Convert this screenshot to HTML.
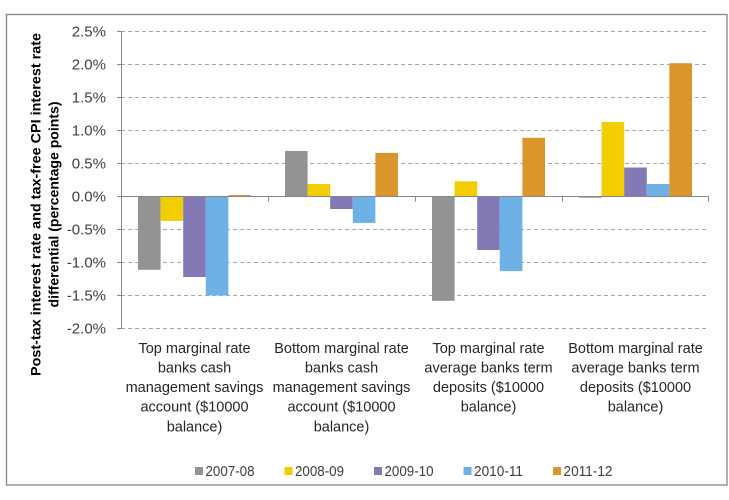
<!DOCTYPE html>
<html>
<head>
<meta charset="utf-8">
<style>
  html, body { margin: 0; padding: 0; background: #ffffff; }
  body { width: 729px; height: 500px; overflow: hidden; }
  svg { display: block; }
  text { font-family: "Liberation Sans", Arial, sans-serif; }
</style>
</head>
<body>
<svg width="729" height="500" viewBox="0 0 729 500" xmlns="http://www.w3.org/2000/svg">
  <rect x="0" y="0" width="729" height="500" fill="#ffffff"/>
  <!-- chart border -->
  <rect x="6.5" y="14.5" width="720.5" height="470.5" fill="#ffffff" stroke="#868686" stroke-width="1.3"/>

  <!-- gridlines -->
  <g stroke="#a6a6a6" stroke-width="1" stroke-dasharray="4,3" fill="none">
    <line x1="121" y1="31.5" x2="709" y2="31.5"/>
    <line x1="121" y1="64.5" x2="709" y2="64.5"/>
    <line x1="121" y1="97.5" x2="709" y2="97.5"/>
    <line x1="121" y1="130.5" x2="709" y2="130.5"/>
    <line x1="121" y1="163.5" x2="709" y2="163.5"/>
    <line x1="121" y1="229.5" x2="709" y2="229.5"/>
    <line x1="121" y1="262.5" x2="709" y2="262.5"/>
    <line x1="121" y1="295.5" x2="709" y2="295.5"/>
    <line x1="121" y1="328.5" x2="709" y2="328.5"/>
  </g>

  <!-- bars -->
  <g>
    <!-- category 1 -->
    <rect x="138" y="196.5" width="22.6" height="73.3" fill="#939393"/>
    <rect x="160.6" y="196.5" width="22.6" height="24.4" fill="#F2CE00"/>
    <rect x="183.2" y="196.5" width="22.6" height="80.5" fill="#8279B5"/>
    <rect x="205.8" y="196.5" width="22.6" height="99" fill="#6DB1E6"/>
    <rect x="228.4" y="195" width="22.6" height="1.5" fill="#DB962B"/>
    <!-- category 2 -->
    <rect x="285" y="151" width="22.6" height="45.5" fill="#939393"/>
    <rect x="307.6" y="184" width="22.6" height="12.5" fill="#F2CE00"/>
    <rect x="330.2" y="196.5" width="22.6" height="12.5" fill="#8279B5"/>
    <rect x="352.8" y="196.5" width="22.6" height="26.4" fill="#6DB1E6"/>
    <rect x="375.4" y="152.9" width="22.6" height="43.6" fill="#DB962B"/>
    <!-- category 3 -->
    <rect x="432" y="196.5" width="22.6" height="104.3" fill="#939393"/>
    <rect x="454.6" y="181.3" width="22.6" height="15.2" fill="#F2CE00"/>
    <rect x="477.2" y="196.5" width="22.6" height="53.5" fill="#8279B5"/>
    <rect x="499.8" y="196.5" width="22.6" height="74.6" fill="#6DB1E6"/>
    <rect x="522.4" y="137.8" width="22.6" height="58.7" fill="#DB962B"/>
    <!-- category 4 -->
    <rect x="579" y="196.5" width="22.6" height="1.2" fill="#939393"/>
    <rect x="601.6" y="121.9" width="22.6" height="74.6" fill="#F2CE00"/>
    <rect x="624.2" y="167.5" width="22.6" height="29" fill="#8279B5"/>
    <rect x="646.8" y="184" width="22.6" height="12.5" fill="#6DB1E6"/>
    <rect x="669.4" y="63.2" width="22.6" height="133.3" fill="#DB962B"/>
  </g>

  <!-- axes -->
  <g stroke="#868686" stroke-width="1" fill="none">
    <line x1="121.5" y1="31" x2="121.5" y2="329"/>
    <line x1="117" y1="31.5" x2="121.5" y2="31.5"/>
    <line x1="117" y1="64.5" x2="121.5" y2="64.5"/>
    <line x1="117" y1="97.5" x2="121.5" y2="97.5"/>
    <line x1="117" y1="130.5" x2="121.5" y2="130.5"/>
    <line x1="117" y1="163.5" x2="121.5" y2="163.5"/>
    <line x1="117" y1="196.5" x2="121.5" y2="196.5"/>
    <line x1="117" y1="229.5" x2="121.5" y2="229.5"/>
    <line x1="117" y1="262.5" x2="121.5" y2="262.5"/>
    <line x1="117" y1="295.5" x2="121.5" y2="295.5"/>
    <line x1="117" y1="328.5" x2="121.5" y2="328.5"/>
    <line x1="121" y1="196.5" x2="709" y2="196.5"/>
    <line x1="268.5" y1="196.5" x2="268.5" y2="201.5"/>
    <line x1="415.5" y1="196.5" x2="415.5" y2="201.5"/>
    <line x1="562.5" y1="196.5" x2="562.5" y2="201.5"/>
    <line x1="708.5" y1="196.5" x2="708.5" y2="201.5"/>
  </g>

  <!-- y tick labels -->
  <g font-size="15" fill="#404040" text-anchor="end">
    <text x="106" y="36.5">2.5%</text>
    <text x="106" y="69.5">2.0%</text>
    <text x="106" y="102.5">1.5%</text>
    <text x="106" y="135.5">1.0%</text>
    <text x="106" y="168.5">0.5%</text>
    <text x="106" y="201.5">0.0%</text>
    <text x="106" y="234.5">-0.5%</text>
    <text x="106" y="267.5">-1.0%</text>
    <text x="106" y="300.5">-1.5%</text>
    <text x="106" y="333.5">-2.0%</text>
  </g>

  <!-- y axis title -->
  <g font-size="14" font-weight="bold" fill="#000000" text-anchor="middle">
    <text transform="translate(40.5,204.5) rotate(-90)" x="0" y="0" textLength="343" lengthAdjust="spacingAndGlyphs">Post-tax interest rate and tax-free CPI interest rate</text>
    <text transform="translate(58.5,204.5) rotate(-90)" x="0" y="0" textLength="206" lengthAdjust="spacingAndGlyphs">differential (percentage points)</text>
  </g>

  <!-- category labels -->
  <g font-size="14.5" fill="#262626" text-anchor="middle">
    <text x="194.5" y="353">Top marginal rate</text>
    <text x="194.5" y="372.5">banks cash</text>
    <text x="194.5" y="392">management savings</text>
    <text x="194.5" y="411.5">account ($10000</text>
    <text x="194.5" y="431.5">balance)</text>

    <text x="341.5" y="353">Bottom marginal rate</text>
    <text x="341.5" y="372.5">banks cash</text>
    <text x="341.5" y="392">management savings</text>
    <text x="341.5" y="411.5">account ($10000</text>
    <text x="341.5" y="431.5">balance)</text>

    <text x="488.5" y="353">Top marginal rate</text>
    <text x="488.5" y="372.5">average banks term</text>
    <text x="488.5" y="392">deposits ($10000</text>
    <text x="488.5" y="411.5">balance)</text>

    <text x="635.5" y="353">Bottom marginal rate</text>
    <text x="635.5" y="372.5">average banks term</text>
    <text x="635.5" y="392">deposits ($10000</text>
    <text x="635.5" y="411.5">balance)</text>
  </g>

  <!-- legend -->
  <g>
    <rect x="195" y="467" width="8" height="8" fill="#939393"/>
    <rect x="284.5" y="467" width="8" height="8" fill="#F2CE00"/>
    <rect x="374" y="467" width="8" height="8" fill="#8279B5"/>
    <rect x="463.5" y="467" width="8" height="8" fill="#6DB1E6"/>
    <rect x="553" y="467" width="8" height="8" fill="#DB962B"/>
  </g>
  <g font-size="15" fill="#404040">
    <text x="205.5" y="476" textLength="49" lengthAdjust="spacingAndGlyphs">2007-08</text>
    <text x="295" y="476" textLength="49" lengthAdjust="spacingAndGlyphs">2008-09</text>
    <text x="384.5" y="476" textLength="49" lengthAdjust="spacingAndGlyphs">2009-10</text>
    <text x="474" y="476" textLength="49" lengthAdjust="spacingAndGlyphs">2010-11</text>
    <text x="563.5" y="476" textLength="49" lengthAdjust="spacingAndGlyphs">2011-12</text>
  </g>
</svg>
</body>
</html>
